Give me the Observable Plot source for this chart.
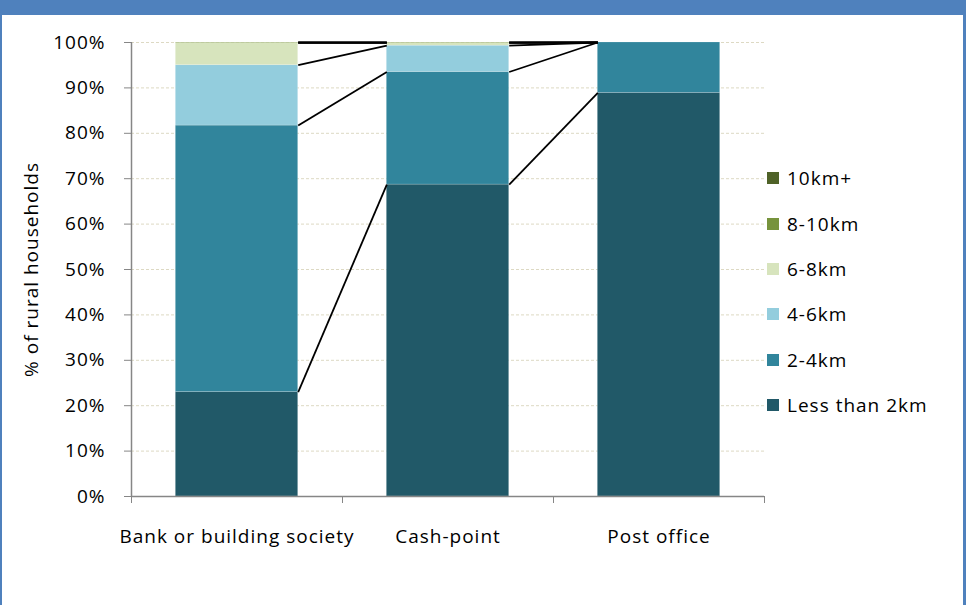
<!DOCTYPE html>
<html>
<head>
<meta charset="utf-8">
<script src="https://cdn.jsdelivr.net/npm/d3@7"></script>
<script src="https://cdn.jsdelivr.net/npm/@observablehq/plot@0.6"></script>
<style>
  html, body { margin: 0; padding: 0; background: #fff; }
  #wrap { position: relative; width: 966px; height: 605px; overflow: hidden; font-family: "Open Sans", Lato, sans-serif; }
  #header { position: absolute; left: 0; top: 0; width: 966px; height: 15px; background: #4F81BD; }
  #bl { position: absolute; left: 0; top: 0; width: 2px; height: 605px; background: #4F81BD; }
  #br { position: absolute; right: 0; top: 0; width: 3px; height: 605px; background: #4F81BD; }
  #chart { position: absolute; left: 0; top: 0; }
  #chart svg text { letter-spacing: 1px; }
  #legend { position: absolute; left: 767px; top: 0; }
  .item { position: absolute; left: 0; display: flex; align-items: center; white-space: nowrap; font-size: 19px; letter-spacing: 1px; color: #000; }
  .sw { width: 12px; height: 12px; margin-right: 8px; }
</style>
</head>
<body>
<div id="wrap">
  <div id="chart"></div>
  <div id="legend"></div>
  <div id="header"></div>
  <div id="bl"></div>
  <div id="br"></div>
</div>
<script>
const categories = ["Bank or building society", "Cash-point", "Post office"];
const seriesNames = ["Less than 2km", "2-4km", "4-6km", "6-8km", "8-10km", "10km+"];
const seriesColors = ["#215968", "#31859C", "#93CDDD", "#D7E4BD", "#77933C", "#4F6228"];
const lessThan2km = [23.0, 68.7, 88.9];
const km2to4 = [58.7, 24.8, 11.1];
const km4to6 = [13.3, 5.8, 0];
const km6to8 = [4.9, 0.6, 0];
const km8to10 = [0.1, 0.1, 0];
const km10plus = [0, 0, 0];
const yTicks = [0, 10, 20, 30, 40, 50, 60, 70, 80, 90, 100];

const seriesValues = [lessThan2km, km2to4, km4to6, km6to8, km8to10, km10plus];

// build stacked segments
const segs = [];
const tops = seriesNames.map(() => []);
categories.forEach((c, i) => {
  let acc = 0;
  seriesValues.forEach((vals, s) => {
    const y1 = acc; acc += vals[i];
    segs.push({cat: i, series: seriesNames[s], y1, y2: acc});
    tops[s][i] = acc;
  });
});
const gapHalf = 0.29; // half bar width as fraction of band
const links = [];
seriesNames.forEach((name, s) => {
  for (let i = 0; i < categories.length - 1; i++) {
    links.push({x1: i + 0.5 + gapHalf, y1: tops[s][i], x2: i + 1.5 - gapHalf, y2: tops[s][i + 1]});
  }
});

const plot = Plot.plot({
  width: 966,
  height: 605,
  marginTop: 42,
  marginBottom: 109,
  marginLeft: 131,
  marginRight: 202,
  style: {fontFamily: "'Open Sans', Lato, sans-serif", fontSize: "19px", color: "#000", background: "transparent"},
  x: {domain: [0, categories.length]},
  y: {domain: [0, 100]},
  color: {domain: seriesNames, range: seriesColors},
  marks: [
    Plot.gridY(yTicks, {stroke: "#DDD9C3", strokeOpacity: 1, strokeDasharray: "3,2", strokeWidth: 1}),
    Plot.rect(segs, {x1: d => d.cat + 0.5 - gapHalf, x2: d => d.cat + 0.5 + gapHalf, y1: "y1", y2: "y2", fill: "series", stroke: "#ffffff", strokeOpacity: 0.25, strokeWidth: 0.7}),
    Plot.link(links, {x1: "x1", y1: "y1", x2: "x2", y2: "y2", stroke: "#000", strokeWidth: 1.8}),
    Plot.axisY(yTicks, {tickFormat: d => d + "%", tickSize: 7, tickPadding: 19, stroke: "#868686", label: "% of rural households", labelAnchor: "center", labelArrow: "none", labelOffset: 107, fontSize: 19}),
    Plot.ruleX([0], {stroke: "#868686", strokeWidth: 1.5}),
    Plot.ruleY([0], {stroke: "#868686", strokeWidth: 1.5}),
    Plot.axisX([0, 1, 2, 3], {tickSize: 7, tickFormat: () => "", stroke: "#868686", label: null}),
    Plot.axisX(categories.map((c, i) => i + 0.5), {tickSize: 0, tickPadding: 33, tickFormat: d => categories[Math.floor(d)], label: null, fontSize: 19})
  ]
});
document.getElementById("chart").appendChild(plot);

// legend (top entry is last series), rows aligned with 70%..20% gridlines via y scale
const y = plot.scale("y");
const legend = document.getElementById("legend");
const legendRows = [70, 60, 50, 40, 30, 20];
seriesNames.slice().reverse().forEach((name, k) => {
  const color = seriesColors[seriesNames.length - 1 - k];
  const div = document.createElement("div");
  div.className = "item";
  div.style.top = (y.apply(legendRows[k]) - 12) + "px";
  div.style.height = "24px";
  div.innerHTML = `<span class="sw" style="background:${color}"></span><span>${name}</span>`;
  legend.appendChild(div);
});
</script>
</body>
</html>
